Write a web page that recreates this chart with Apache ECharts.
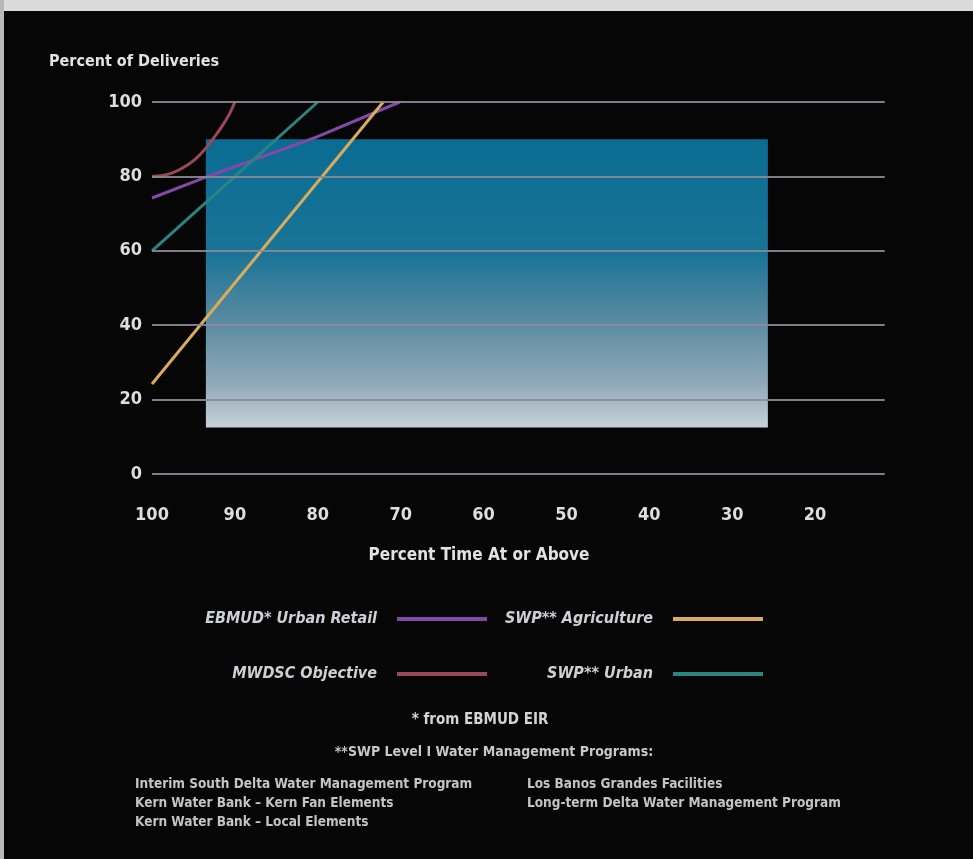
<!DOCTYPE html>
<html>
<head>
<meta charset="utf-8">
<script src="https://cdn.jsdelivr.net/npm/echarts@6/dist/echarts.min.js"></script>
<style>
html,body{margin:0;padding:0;background:#060606;}
#chart{width:973px;height:859px;}
</style>
</head>
<body>
<div id="chart"></div>
<script>
// ---- data ----
var seriesNames = ['EBMUD* Urban Retail', 'SWP** Agriculture', 'MWDSC Objective', 'SWP** Urban'];
var ebmudUrbanRetail = [[100, 74.2], [93.5, 79.8], [80.1, 90.6], [70.1, 100]];
var swpAgriculture = [[100, 24.2], [72.1, 100]];
var mwdscObjective = [[100, 80], [98, 80.6], [96.3, 82.3], [94.8, 84.6], [93.5, 87.6], [92.5, 90.5], [91.6, 93.3], [90.7, 96.6], [90, 100]];
var swpUrban = [[100, 60], [80, 100]];
var yTicks = [0, 20, 40, 60, 80, 100];
var xTicks = [100, 90, 80, 70, 60, 50, 40, 30, 20];
var gridLineXRange = [100, 11.6];
var objectiveBand = { x: [93.5, 25.7], y: [90, 12.5] };
var footnotes = {
  star: '* from EBMUD EIR',
  dstar: '**SWP Level I Water Management Programs:',
  left: ['Interim South Delta Water Management Program', 'Kern Water Bank \u2013 Kern Fan Elements', 'Kern Water Bank \u2013 Local Elements'],
  right: ['Los Banos Grandes Facilities', 'Long-term Delta Water Management Program']
};

var FONT = "'Liberation Sans Narrow', 'DejaVu Sans Condensed', 'Liberation Sans', sans-serif";
var colors = ['#8448a6', '#d9ab5c', '#9a4858', '#2a8582'];

var chart = echarts.init(document.getElementById('chart'), null, { renderer: 'canvas' });

function legendCfg(name, right, top) {
  return {
    data: [name], right: right, top: top, align: 'right', orient: 'horizontal',
    icon: 'rect', itemWidth: 90, itemHeight: 4, selectedMode: false,
    textStyle: { color: '#cfcfd6', fontFamily: FONT, fontStyle: 'italic', fontWeight: 'bold', fontSize: 16, padding: [0, 15, 0, 0] }
  };
}

var graphics = [
  { type: 'rect', shape: { x: 0, y: 0, width: 973, height: 11 }, style: { fill: '#dadada' }, z: 0 },
  { type: 'rect', shape: { x: 0, y: 0, width: 4, height: 859 }, style: { fill: '#b8b8b8' }, z: 0 },
  { type: 'text', x: 480, y: 720, style: { text: footnotes.star, fill: '#d4d4d4', font: 'bold 15px ' + FONT, align: 'center', verticalAlign: 'middle' } },
  { type: 'text', x: 494, y: 752, style: { text: footnotes.dstar, fill: '#c8c8c8', font: 'bold 14px ' + FONT, align: 'center', verticalAlign: 'middle' } }
];
footnotes.left.forEach(function (t, i) {
  graphics.push({ type: 'text', x: 135, y: 784 + i * 19, style: { text: t, fill: '#c4c4c4', font: 'bold 13.5px ' + FONT, align: 'left', verticalAlign: 'middle' } });
});
footnotes.right.forEach(function (t, i) {
  graphics.push({ type: 'text', x: 527, y: 784 + i * 19, style: { text: t, fill: '#c4c4c4', font: 'bold 13.5px ' + FONT, align: 'left', verticalAlign: 'middle' } });
});

var option = {
  backgroundColor: '#060606',
  animation: false,
  title: {
    text: 'Percent of Deliveries', left: 44, top: 49,
    textStyle: { color: '#e2e2e2', fontFamily: FONT, fontWeight: 'bold', fontSize: 16 }
  },
  grid: { left: 152, right: 75, top: 102, bottom: 385, containLabel: false },
  xAxis: {
    type: 'value', inverse: true, min: 10, max: 100, interval: 10,
    name: 'Percent Time At or Above', nameLocation: 'middle', nameGap: 73,
    nameTextStyle: { color: '#e2e2e2', fontFamily: FONT, fontWeight: 'bold', fontSize: 17, padding: [0, 92, 0, 0] },
    axisLine: { show: false }, axisTick: { show: false }, splitLine: { show: false },
    axisLabel: {
      color: '#dedede', fontFamily: FONT, fontWeight: 'bold', fontSize: 18, margin: 32,
      formatter: function (v) { return xTicks.indexOf(v) >= 0 ? String(v) : ''; }
    }
  },
  yAxis: {
    type: 'value', min: 0, max: 100, interval: 20,
    axisLine: { show: false }, axisTick: { show: false }, splitLine: { show: false },
    axisLabel: { color: '#dedede', fontFamily: FONT, fontWeight: 'bold', fontSize: 18, margin: 10 }
  },
  legend: [
    legendCfg(seriesNames[0], 481, 606),
    legendCfg(seriesNames[1], 205, 606),
    legendCfg(seriesNames[2], 481, 661),
    legendCfg(seriesNames[3], 205, 661)
  ],
  graphic: graphics,
  series: [
    {
      name: 'band', type: 'line', data: [], z: 1, silent: true,
      markArea: {
        silent: true,
        itemStyle: {
          color: new echarts.graphic.LinearGradient(0, 0, 0, 1, [
            { offset: 0, color: '#0a6c92' },
            { offset: 0.4, color: '#1a7497' },
            { offset: 0.6, color: '#52879f' },
            { offset: 0.85, color: '#91a9b9' },
            { offset: 1, color: '#c6d2d9' }
          ])
        },
        data: [[{ coord: [objectiveBand.x[0], objectiveBand.y[0]] }, { coord: [objectiveBand.x[1], objectiveBand.y[1]] }]]
      }
    },
    {
      name: 'grid', type: 'line', data: [], z: 2, silent: true,
      markLine: {
        silent: true, symbol: ['none', 'none'], label: { show: false },
        lineStyle: { color: '#8c8a94', width: 2, type: 'solid', opacity: 0.9 },
        data: yTicks.map(function (v) { return [{ coord: [gridLineXRange[0], v] }, { coord: [gridLineXRange[1], v] }]; })
      }
    },
    { name: seriesNames[0], type: 'line', data: ebmudUrbanRetail, showSymbol: false, z: 3, lineStyle: { width: 3, color: colors[0] }, itemStyle: { color: colors[0] } },
    { name: seriesNames[1], type: 'line', data: swpAgriculture, showSymbol: false, z: 3, lineStyle: { width: 3, color: colors[1] }, itemStyle: { color: colors[1] } },
    { name: seriesNames[2], type: 'line', data: mwdscObjective, smooth: 0.4, showSymbol: false, z: 3, lineStyle: { width: 3, color: colors[2] }, itemStyle: { color: colors[2] } },
    { name: seriesNames[3], type: 'line', data: swpUrban, showSymbol: false, z: 3, lineStyle: { width: 3, color: colors[3] }, itemStyle: { color: colors[3] } }
  ]
};
chart.setOption(option);
</script>
</body>
</html>
